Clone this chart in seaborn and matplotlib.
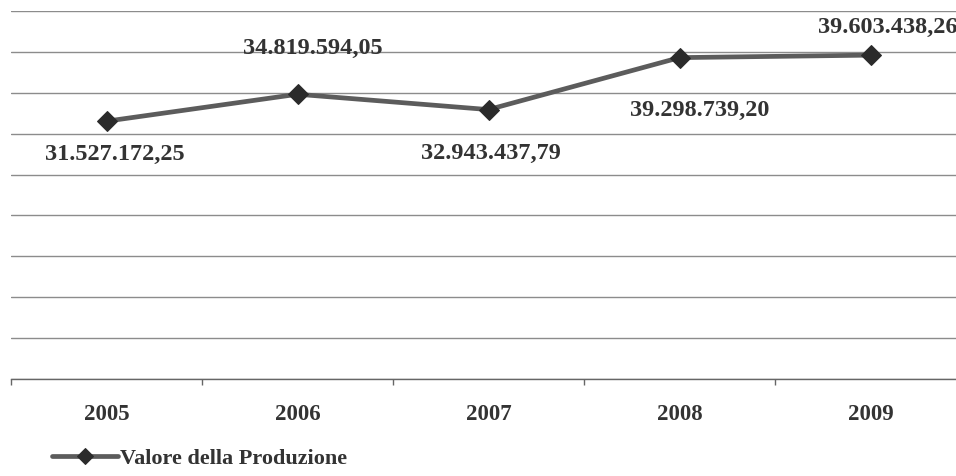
import matplotlib
matplotlib.use("Agg")
import matplotlib.pyplot as plt
import seaborn as sns
import pandas as pd
from matplotlib.ticker import MultipleLocator, FixedLocator, NullFormatter

# Production value per year (euro)
years = ["2005", "2006", "2007", "2008", "2009"]
values = [31527172.25, 34819594.05, 32943437.79, 39298739.20, 39603438.26]
value_labels = ["31.527.172,25", "34.819.594,05", "32.943.437,79", "39.298.739,20", "39.603.438,26"]
series_name = "Valore della Produzione"

# label offsets (points) relative to each marker
label_offsets = [(6, -23), (11, 34), (1.5, -31), (14.5, -37.5), (12.5, 20.5)]

sns.set_theme(style="white")
plt.rcParams["font.family"] = ["Liberation Serif", "DejaVu Serif"]
plt.rcParams["font.weight"] = "bold"

text_color = "#333333"
line_color = "#5c5c5c"
marker_color = "#2b2b2b"
grid_color = "#8c8c8c"

df = pd.DataFrame({"Anno": years, "Valore": values, "Serie": series_name})

fig = plt.figure(figsize=(9.56, 4.77), dpi=100)
ax = fig.add_axes([11 / 956, 97 / 477, 955 / 956, 368 / 477])

sns.lineplot(data=df, x="Anno", y="Valore", hue="Serie", palette=[line_color],
             marker="D", markersize=10.5, markerfacecolor=marker_color,
             markeredgecolor=marker_color, linewidth=3.4, ax=ax, legend=True,
             sort=False)

ax.set_xlim(-0.5, len(years) - 0.5)
ax.set_ylim(0, 45e6)
ax.yaxis.set_major_locator(MultipleLocator(5e6))
ax.yaxis.set_major_formatter(NullFormatter())
ax.tick_params(axis="y", length=0)
ax.grid(axis="y", color=grid_color, linewidth=1.0)
ax.set_axisbelow(True)

for side in ["top", "right", "left"]:
    ax.spines[side].set_visible(False)
ax.spines["bottom"].set_color("#666666")
ax.spines["bottom"].set_linewidth(1.0)

ax.set_xlabel("")
ax.set_ylabel("")
ax.tick_params(axis="x", which="major", bottom=True, length=0, pad=17,
               labelsize=16.5, labelcolor=text_color)
for lbl in ax.get_xticklabels():
    lbl.set_fontweight("bold")
ax.xaxis.set_minor_locator(FixedLocator([i - 0.5 for i in range(len(years) + 1)]))
ax.tick_params(axis="x", which="minor", bottom=True, length=4, width=1,
               color="#666666", direction="out")

for i, (txt, v) in enumerate(zip(value_labels, values)):
    ax.annotate(txt, xy=(i, v), xytext=label_offsets[i], textcoords="offset points",
                ha="center", va="center", fontsize=17.5, fontweight="bold",
                color=text_color, annotation_clip=False)

leg = ax.legend(loc="lower left", bbox_to_anchor=(36 / 956, -8 / 477),
                bbox_transform=fig.transFigure, frameon=False,
                handlelength=3.0, handletextpad=0.1, borderaxespad=0.3,
                prop={"family": "Liberation Serif", "weight": "bold", "size": 16})
for t in leg.get_texts():
    t.set_color(text_color)
for h in leg.legend_handles:
    h.set_markersize(8)

fig.savefig("out.png", dpi=100, facecolor="white")
